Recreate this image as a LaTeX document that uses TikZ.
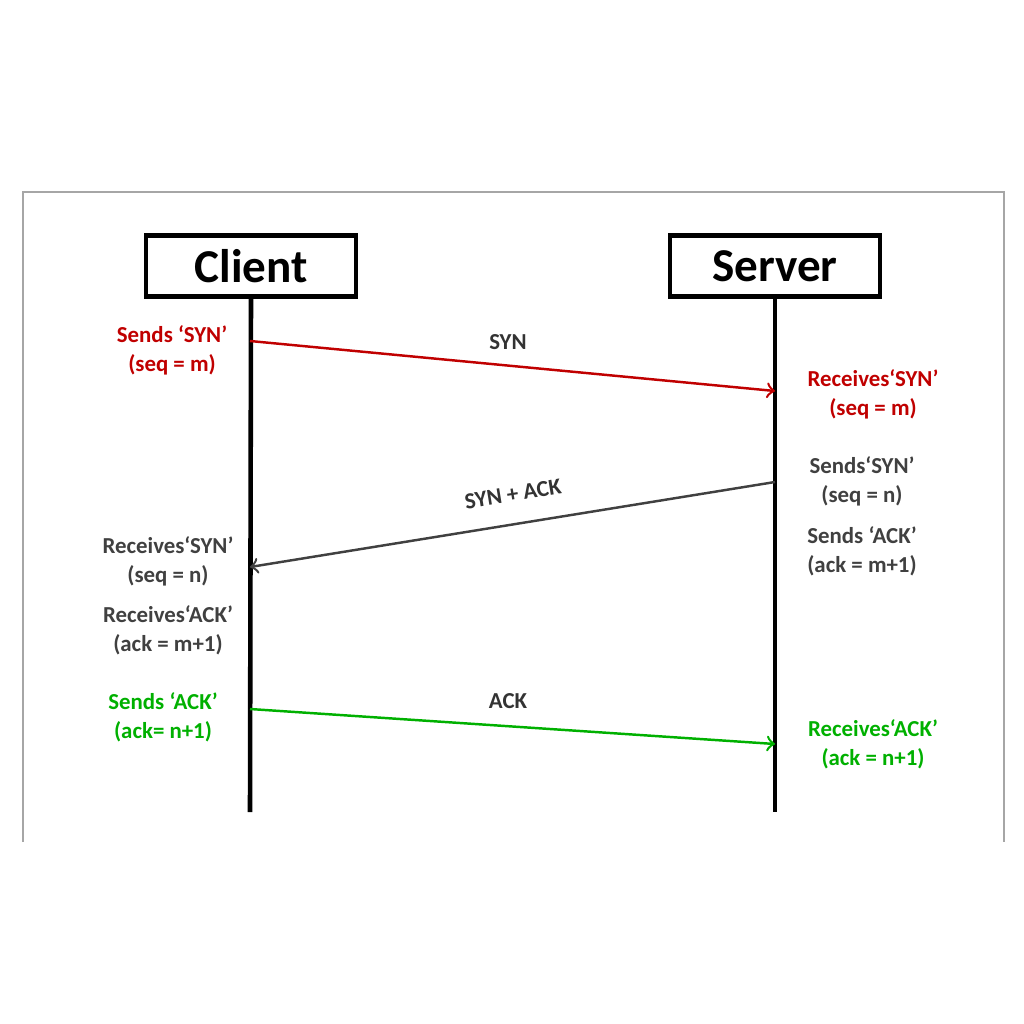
\documentclass[tikz,border=0pt]{standalone}
\usepackage{fontspec}
\setmainfont{Carlito}
\usetikzlibrary{positioning}
\definecolor{synred}{RGB}{192,0,0}
\definecolor{ackgray}{RGB}{64,64,64}
\definecolor{ackgreen}{RGB}{0,176,0}

\begin{document}
\begin{tikzpicture}[
    x=0.01cm, y=-0.01cm,
    party/.style={rectangle, draw, line width=1.2pt, minimum width=2.1cm, minimum height=0.61cm, font=\fontsize{13.4}{16}\selectfont\bfseries},
    note/.style={align=center, font=\fontsize{6.5}{8.2}\selectfont\bfseries},
    lifeline/.style={line width=1.3pt},
    msg/.style={->, line width=0.7pt}
]
\useasboundingbox (0,0) rectangle (1024,1024);

% Frame
\draw[gray!70, line width=0.4pt] (23,842) -- (23,192) -- (1004,192) -- (1004,842);

% Parties
\node (client) [party] at (251,266) {Client};
\node (server) [party] at (775,266) {Server};

% Lifelines
\coordinate (cend) at (250,812);
\coordinate (send) at (775,812);
\draw[lifeline] (client.south) -- (cend);
\draw[lifeline] (server.south) -- (send);

% Message points
\coordinate (c1) at (250,341);
\coordinate (s1) at (775,391);
\coordinate (s2) at (775,482);
\coordinate (c2) at (250,567);
\coordinate (c3) at (250,709);
\coordinate (s3) at (775,744);

% Messages
\draw[msg, synred] (c1) -- (s1);
\draw[msg, ackgray] (s2) -- (c2);
\draw[msg, ackgreen] (c3) -- (s3);
\node (lsyn) [note, black!80] at (508,342) {SYN};
\node (lsynack) [note, black!80, rotate=9.2] at (513,494) {SYN + ACK};
\node (lack) [note, black!80] at (508,701) {ACK};

% Notes
\node (n1) [note, synred] at (172,350) {Sends ‘SYN’\\(seq = m)};
\node (n2) [note, synred] at (873,394) {Receives‘SYN’\\(seq = m)};
\node (n3) [note, ackgray] at (862,481) {Sends‘SYN’\\(seq = n)};
\node (n4) [note, ackgray] at (862,551) {Sends ‘ACK’\\(ack = m+1)};
\node (n5) [note, ackgray] at (168,561) {Receives‘SYN’\\(seq = n)};
\node (n6) [note, ackgray] at (168,630) {Receives‘ACK’\\(ack = m+1)};
\node (n7) [note, ackgreen] at (163,717) {Sends ‘ACK’\\(ack= n+1)};
\node (n8) [note, ackgreen] at (873,744) {Receives‘ACK’\\(ack = n+1)};

\end{tikzpicture}
\end{document}
